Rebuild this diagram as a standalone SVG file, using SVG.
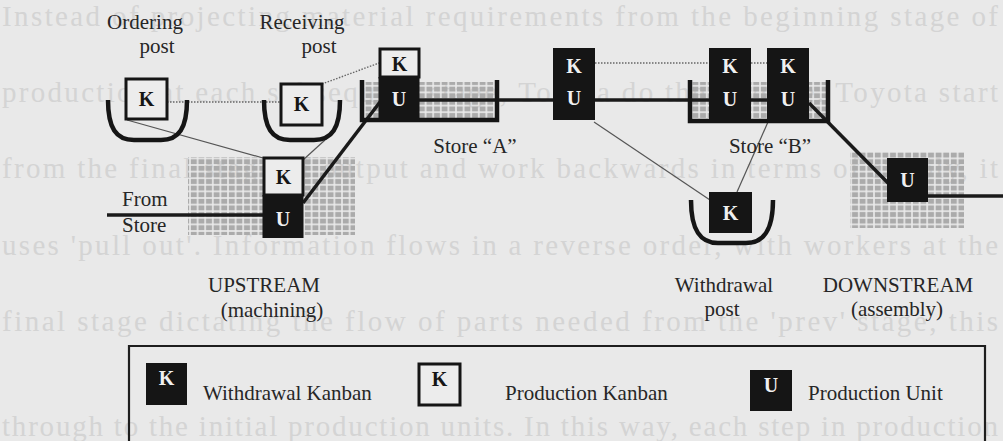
<svg xmlns="http://www.w3.org/2000/svg" width="1003" height="441" viewBox="0 0 1003 441">
<style>
.bg{font-family:"Liberation Serif",serif;font-size:29px;fill:#d4d4d4}
.lbl{font-family:"Liberation Serif",serif;font-size:21px;fill:#262626}
.kw{font-family:"Liberation Serif",serif;font-weight:bold;font-size:20px;text-anchor:middle}
.kb{fill:#151515}
.kwht{fill:#ececec;stroke:#151515;stroke-width:3}
.tray{fill:none;stroke:#151515;stroke-width:4.5}
.thick{stroke:#1a1a1a;stroke-width:3.5;fill:none}
.thin{stroke:#555;stroke-width:1.2;fill:none}
.dot{stroke:#666;stroke-width:1.4;stroke-dasharray:1.5 1.5;fill:none}
.grid{fill:url(#grid)}
</style>
<defs>
<pattern id="grid" width="7.6" height="6.6" patternUnits="userSpaceOnUse">
<rect x="0.8" y="0.8" width="6" height="5" fill="#ababab"/>
</pattern>
</defs>
<rect width="1003" height="441" fill="#e9e9e9"/>
<g id="page-text">
<text class="bg" x="2" y="26" textLength="996" lengthAdjust="spacing">Instead of projecting material requirements from the beginning stage of</text>
<text class="bg" x="2" y="102" textLength="996" lengthAdjust="spacing">production at each subsequent stage, Toyota do the reverse. Toyota start</text>
<text class="bg" x="2" y="178" textLength="996" lengthAdjust="spacing">from the final stage of output and work backwards in terms of supply, it</text>
<text class="bg" x="2" y="255" textLength="996" lengthAdjust="spacing">uses 'pull out'. Information flows in a reverse order, with workers at the</text>
<text class="bg" x="2" y="331" textLength="996" lengthAdjust="spacing">final stage dictating the flow of parts needed from the 'prev' stage, this</text>
<text class="bg" x="2" y="436" textLength="996" lengthAdjust="spacing">through to the initial production units. In this way, each step in production</text>
</g>
<g id="grids">
<rect class="grid" x="188" y="157" width="167" height="78"/>
<rect class="grid" x="365" y="82" width="129" height="36"/>
<rect class="grid" x="692" y="82" width="134" height="36"/>
<rect class="grid" x="850" y="152" width="114" height="76"/>
</g>
<g id="connectors">
<line class="thin" x1="127" y1="120" x2="263" y2="158"/>
<line class="thin" x1="303" y1="160" x2="325" y2="140"/>
<line class="dot" x1="167" y1="102" x2="281" y2="102"/>
<line class="dot" x1="322" y1="84" x2="379" y2="63"/>
<line class="thick" x1="107" y1="215" x2="263" y2="215"/>
<line class="thick" x1="303" y1="203" x2="380" y2="102"/>
<line class="thick" x1="419" y1="100" x2="553" y2="100"/>
<line class="dot" x1="595" y1="63" x2="709" y2="63"/>
<line class="dot" x1="751" y1="63" x2="767" y2="63"/>
<line class="thick" x1="595" y1="100" x2="767" y2="100"/>
<line class="thin" x1="594" y1="122" x2="710" y2="200"/>
<line class="thin" x1="768" y1="122" x2="737" y2="192"/>
<line class="thick" x1="809" y1="103" x2="889" y2="184"/>
<line class="thick" x1="928" y1="196" x2="1003" y2="196"/>
</g>
<g id="ordering-post">
<path class="tray" d="M108,100 C108,128 116,140 134,140 L161,140 C179,140 187,128 187,100"/>
<rect class="kwht" x="126" y="79" width="41" height="40"/>
<text class="kw" x="146.5" y="106" fill="#151515">K</text>
<text class="lbl" x="145" y="29" text-anchor="middle">Ordering</text>
<text class="lbl" x="157" y="53" text-anchor="middle">post</text>
</g>
<g id="receiving-post">
<path class="tray" d="M264,100 C264,128 272,140 290,140 L314,140 C332,140 340,128 340,100"/>
<rect class="kwht" x="281" y="84" width="41" height="41"/>
<text class="kw" x="301.5" y="111" fill="#151515">K</text>
<text class="lbl" x="302" y="29" text-anchor="middle">Receiving</text>
<text class="lbl" x="319" y="53" text-anchor="middle">post</text>
</g>
<g id="upstream">
<rect class="kwht" x="264" y="158" width="39" height="37"/>
<text class="kw" x="283.5" y="184" fill="#151515">K</text>
<rect class="kb" x="262.5" y="195" width="41" height="43"/>
<text class="kw" x="283" y="226" fill="#f0f0f0">U</text>
<text class="lbl" x="122" y="206">From</text>
<text class="lbl" x="122" y="232">Store</text>
<text class="lbl" x="264" y="292" text-anchor="middle">UPSTREAM</text>
<text class="lbl" x="272" y="317" text-anchor="middle">(machining)</text>
</g>
<g id="store-a">
<path class="tray" d="M362,80 V120 H497 V80"/>
<rect class="kwht" x="380" y="49" width="39" height="28"/>
<text class="kw" x="399.5" y="71" fill="#151515">K</text>
<rect class="kb" x="378.5" y="77" width="41" height="43"/>
<text class="kw" x="399" y="106" fill="#f0f0f0">U</text>
<text class="lbl" x="475" y="153" text-anchor="middle">Store “A”</text>
</g>
<g id="transit-unit">
<rect class="kb" x="553" y="48" width="42" height="72"/>
<text class="kw" x="574" y="73" fill="#f0f0f0">K</text>
<text class="kw" x="574" y="105" fill="#f0f0f0">U</text>
</g>
<g id="store-b">
<path class="tray" d="M690,80 V121 H828 V80"/>
<rect class="kb" x="709" y="48" width="42" height="74"/>
<text class="kw" x="730" y="73" fill="#f0f0f0">K</text>
<text class="kw" x="730" y="106" fill="#f0f0f0">U</text>
<rect class="kb" x="767" y="48" width="42" height="74"/>
<text class="kw" x="788" y="73" fill="#f0f0f0">K</text>
<text class="kw" x="788" y="106" fill="#f0f0f0">U</text>
<text class="lbl" x="770" y="153" text-anchor="middle">Store “B”</text>
</g>
<g id="withdrawal-post">
<path class="tray" d="M691,200 C691,230 700,243 718,243 L746,243 C764,243 773,230 773,200"/>
<rect class="kb" x="709" y="192" width="43" height="41"/>
<text class="kw" x="730.5" y="220" fill="#f0f0f0">K</text>
<text class="lbl" x="724" y="292" text-anchor="middle">Withdrawal</text>
<text class="lbl" x="722" y="316" text-anchor="middle">post</text>
</g>
<g id="downstream">
<rect class="kb" x="887" y="158" width="41" height="44"/>
<text class="kw" x="907.5" y="187" fill="#f0f0f0">U</text>
<text class="lbl" x="898" y="292" text-anchor="middle">DOWNSTREAM</text>
<text class="lbl" x="897" y="316" text-anchor="middle">(assembly)</text>
</g>
<g id="legend">
<path d="M129,441 V346 H985 V441" fill="none" stroke="#1e1e1e" stroke-width="2.2"/>
<rect class="kb" x="146" y="363" width="41" height="42"/>
<text class="kw" x="166.5" y="385" fill="#f0f0f0">K</text>
<text class="lbl" x="203" y="400">Withdrawal Kanban</text>
<rect class="kwht" x="419" y="364" width="41" height="41"/>
<text class="kw" x="439.5" y="386" fill="#151515">K</text>
<text class="lbl" x="505" y="400">Production Kanban</text>
<rect class="kb" x="750" y="370" width="42" height="41"/>
<text class="kw" x="771" y="392" fill="#f0f0f0">U</text>
<text class="lbl" x="808" y="400">Production Unit</text>
</g>
</svg>
